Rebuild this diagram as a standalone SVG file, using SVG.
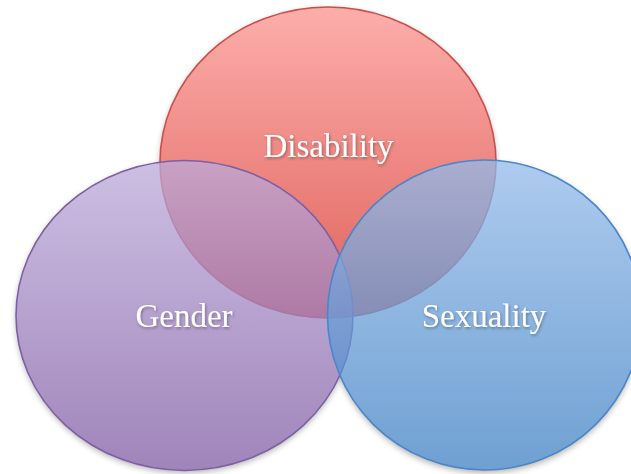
<svg xmlns="http://www.w3.org/2000/svg" width="631" height="474" viewBox="0 0 631 474">
  <defs>
    <linearGradient id="gRed" x1="0" y1="0" x2="0" y2="1">
      <stop offset="0" stop-color="#fca5a2"/>
      <stop offset="1" stop-color="#dc5048"/>
    </linearGradient>
    <linearGradient id="gPurple" x1="0" y1="0" x2="0" y2="1">
      <stop offset="0" stop-color="#bcaada"/>
      <stop offset="1" stop-color="#805ba3"/>
    </linearGradient>
    <linearGradient id="gBlue" x1="0" y1="0" x2="0" y2="1">
      <stop offset="0" stop-color="#93bae9"/>
      <stop offset="1" stop-color="#3e80c3"/>
    </linearGradient>
    <filter id="shadow" x="-20%" y="-20%" width="140%" height="140%">
      <feGaussianBlur stdDeviation="3"/>
    </filter>
    <filter id="tshadow" x="-10%" y="-30%" width="120%" height="160%">
      <feDropShadow dx="1" dy="1.5" stdDeviation="1.5" flood-color="#000" flood-opacity="0.35"/>
    </filter>
    <style>
      .shape { stroke-width: 1.6; }
      .red { fill-opacity: 0.9; }
      .over { fill-opacity: 0.75; }
      .label { font-family: "Liberation Serif", "DejaVu Serif", serif; font-size: 33px; fill: #ffffff; text-anchor: middle; filter: url(#tshadow); }
      .sh { fill: #000; opacity: 0.3; filter: url(#shadow); }
    </style>
  </defs>

  <g id="shadows">
    <ellipse class="sh" cx="328" cy="165" rx="168" ry="155.5"/>
    <ellipse class="sh" cx="184.5" cy="318" rx="168.5" ry="155"/>
    <ellipse class="sh" cx="484.5" cy="318" rx="157" ry="155"/>
  </g>
  <g id="base" fill="#ffffff">
    <ellipse cx="328" cy="162.5" rx="168" ry="155.5"/>
    <ellipse cx="184.5" cy="315.5" rx="168.5" ry="155"/>
    <ellipse cx="484.5" cy="315" rx="157" ry="155"/>
  </g>

  <g id="disability">
    <ellipse class="shape red" cx="328" cy="162.5" rx="168" ry="155.5" fill="url(#gRed)" stroke="#c9504b"/>
  </g>
  <g id="gender">
    <ellipse class="shape over" cx="184.5" cy="315.5" rx="168.5" ry="155" fill="url(#gPurple)" stroke="#7d5fa6"/>
  </g>
  <g id="sexuality">
    <ellipse class="shape over" cx="484.5" cy="315" rx="157" ry="155" fill="url(#gBlue)" stroke="#4a86c8"/>
  </g>

  <g id="connectors"></g>

  <g id="labels">
    <text class="label" x="328.5" y="157">Disability</text>
    <text class="label" x="184" y="327">Gender</text>
    <text class="label" x="484" y="327">Sexuality</text>
  </g>
</svg>
